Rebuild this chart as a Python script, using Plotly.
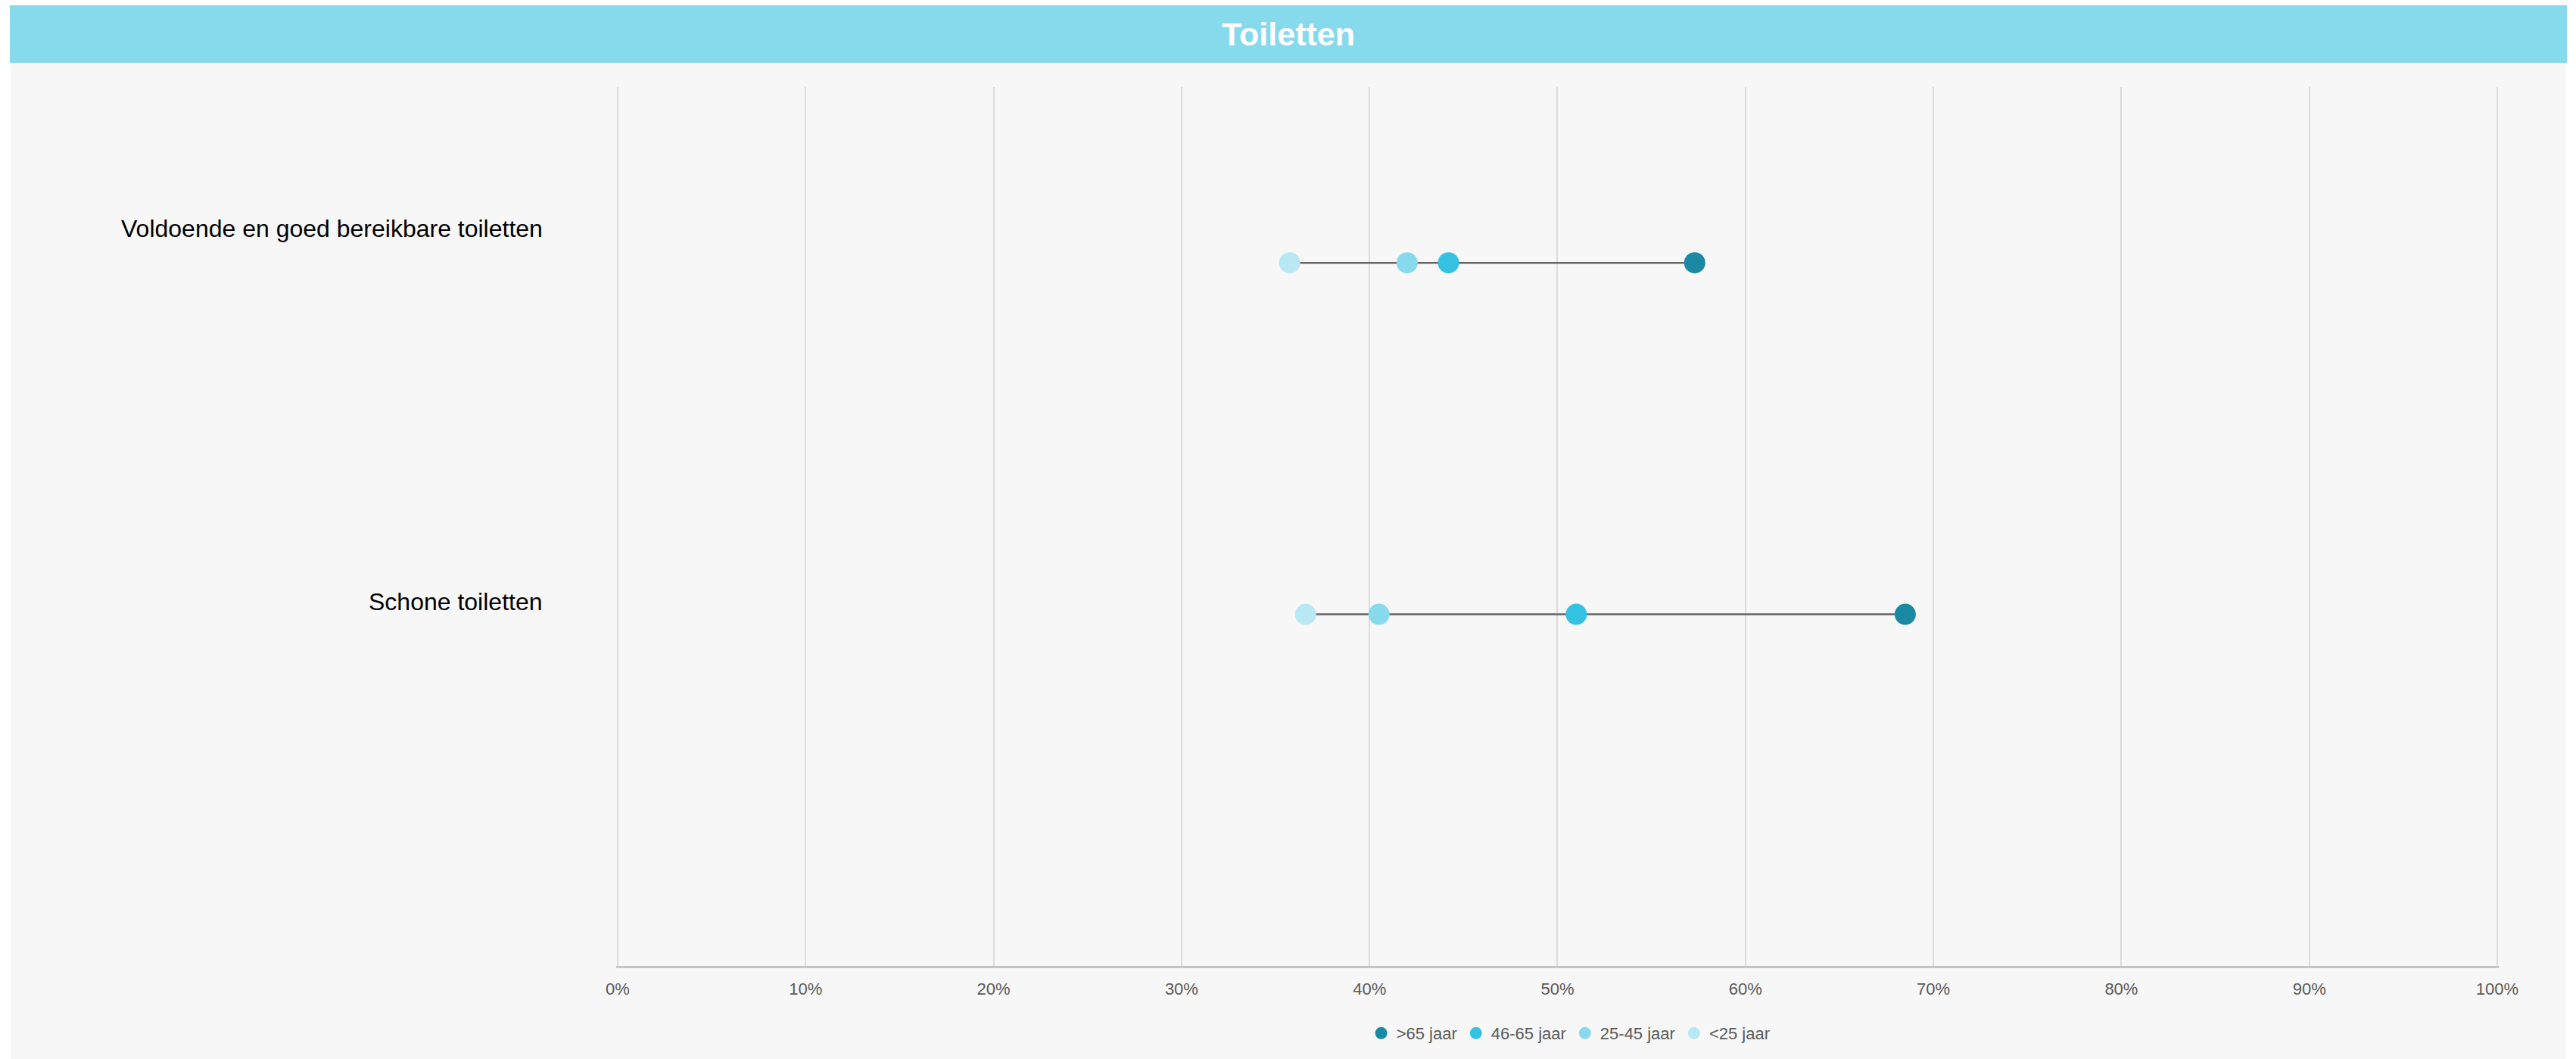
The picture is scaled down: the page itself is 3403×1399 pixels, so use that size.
import plotly.graph_objects as go

# ---- data ----
categories = ["Voldoende en goed bereikbare toiletten", "Schone toiletten"]
series_names = [">65 jaar", "46-65 jaar", "25-45 jaar", "<25 jaar"]
val_65plus = [0.573, 0.685]
val_46_65 = [0.442, 0.510]
val_25_45 = [0.420, 0.405]
val_lt25 = [0.3575, 0.366]
title_text = "Toiletten"

series_values = [val_65plus, val_46_65, val_25_45, val_lt25]
colors = ["#1a89a3", "#35c1e1", "#87d9ec", "#b8e8f4"]

W, H = 3403, 1399
FONT = "Liberation Sans, Arial, sans-serif"

fig = go.Figure()

# connector lines (min to max per category)
lx, ly = [], []
for i in range(len(categories)):
    vals = [s[i] for s in series_values]
    lx += [min(vals), max(vals), None]
    ly += [i, i, None]
fig.add_trace(go.Scatter(x=lx, y=ly, mode="lines", line=dict(color="#646464", width=2.5),
                         showlegend=False, hoverinfo="skip"))

for name, vals, col in zip(series_names, series_values, colors):
    fig.add_trace(go.Scatter(x=vals, y=list(range(len(categories))), mode="markers", name=name,
                             marker=dict(color=col, size=28, line=dict(width=0))))

# category labels
label_shift = [45, 17]
annotations = []
for i, cat in enumerate(categories):
    annotations.append(dict(text=cat, xref="paper", yref="y", x=719 / W, y=i, yshift=label_shift[i],
                            xanchor="right", yanchor="middle", showarrow=False,
                            font=dict(family=FONT, size=32, color="#000000")))
annotations.append(dict(text="<b>" + title_text + "</b>", xref="paper", yref="paper",
                        x=0.5, y=1 - 45 / H, xanchor="center", yanchor="middle", showarrow=False,
                        font=dict(family=FONT, size=43, color="#ffffff")))

shapes = [
    dict(type="rect", xref="paper", yref="paper", x0=14 / W, x1=3390 / W, y0=0, y1=1 - 83 / H,
         fillcolor="#f7f7f7", line=dict(width=0), layer="below"),
    dict(type="rect", xref="paper", yref="paper", x0=13 / W, x1=3391 / W, y0=1 - 83 / H, y1=1 - 7 / H,
         fillcolor="#87d9ec", line=dict(width=0), layer="below"),
]

pad = 0.001
px_per_unit = 3299 - 816
fig.update_layout(
    width=W, height=H,
    margin=dict(l=0, r=0, t=0, b=0, autoexpand=False),
    paper_bgcolor="#ffffff",
    plot_bgcolor="rgba(0,0,0,0)",
    font=dict(family=FONT, color="#595959"),
    xaxis=dict(domain=[(816 - pad * px_per_unit) / W, (3299 + pad * px_per_unit) / W],
               range=[-pad, 1 + pad], dtick=0.1, tick0=0, tickformat=".0%",
               showgrid=True, gridcolor="#dcdcdc", gridwidth=2, zeroline=False,
               showline=True, linecolor="#c4c4c4", linewidth=3, automargin=False,
               ticks="outside", ticklen=9, tickcolor="rgba(0,0,0,0)",
               tickfont=dict(family=FONT, size=22, color="#595959"), fixedrange=True),
    yaxis=dict(domain=[1 - 1276 / H, 1 - 115 / H], range=[2, -0.5], showgrid=False, automargin=False,
               zeroline=False, showticklabels=False, showline=False, fixedrange=True),
    legend=dict(orientation="h", x=0.6095, y=1 - 1365 / H, xanchor="center", yanchor="middle",
                font=dict(family=FONT, size=22, color="#595959"), bgcolor="rgba(0,0,0,0)",
                itemsizing="trace", itemwidth=30, tracegroupgap=0),
    annotations=annotations,
    shapes=shapes,
    showlegend=True,
)

fig.write_html("out.html", config={"displayModeBar": False},
               post_script="document.body.style.margin='0';document.body.style.overflow='hidden';")
